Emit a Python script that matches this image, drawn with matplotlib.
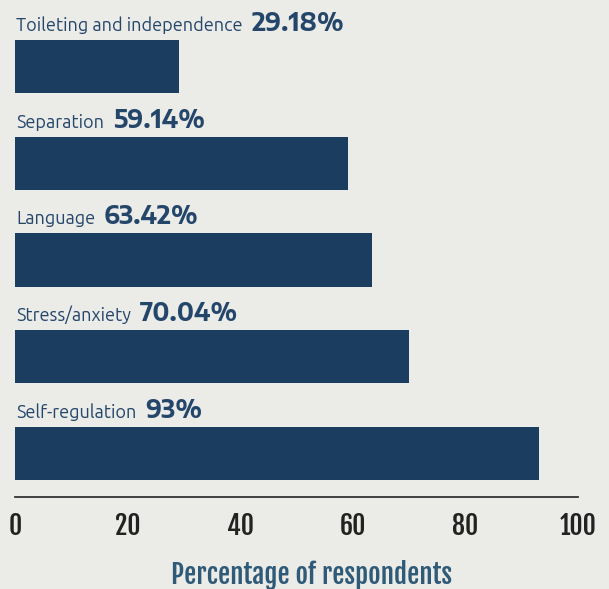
import matplotlib.pyplot as plt
from matplotlib import font_manager

categories = ["Toileting and independence", "Separation", "Language",
              "Stress/anxiety", "Self-regulation"]
values = [29.18, 59.14, 63.42, 70.04, 93]
value_labels = ["29.18%", "59.14%", "63.42%", "70.04%", "93%"]
ticks = [0, 20, 40, 60, 80, 100]

BG = "#ebebe7"
NAVY = "#1b3d5f"
LABEL = "#24466a"

# first candidate family that actually ships a bold face
bold_faces = {f.name for f in font_manager.fontManager.ttflist
              if isinstance(f.weight, int) and f.weight >= 700}
value_font = next((n for n in ["Ubuntu", "Ubuntu Sans", "Encode Sans Semi Expanded",
                               "Hind", "Open Sans"] if n in bold_faces), "DejaVu Sans")

fig = plt.figure(figsize=(6.09, 5.89), dpi=100, facecolor=BG)
ax = fig.add_axes([15 / 609, 92 / 589, 563 / 609, 497 / 589])
ax.set_facecolor(BG)

pos = list(range(len(categories)))
ax.barh(pos, values, height=0.55, color=NAVY)

ax.set_xlim(0, 100)
ax.set_ylim(4.45, -0.686)

# category name, then the bold percentage on the same baseline
for i, (cat, lab) in enumerate(zip(categories, value_labels)):
    top = i - 0.275
    t = ax.annotate(cat, xy=(0, top), xytext=(1, 6.5), textcoords="offset points",
                    fontsize=13, family="Ubuntu", color=LABEL,
                    va="baseline", ha="left", annotation_clip=False)
    ax.annotate(lab, xy=(1, top), xycoords=(t, "data"),
                xytext=(6, 6.5), textcoords="offset points",
                fontsize=17.5, family=value_font, fontweight="bold",
                color=LABEL, va="baseline", ha="left", annotation_clip=False)

for s in ["top", "right", "left"]:
    ax.spines[s].set_visible(False)
ax.spines["bottom"].set_color("#333333")
ax.spines["bottom"].set_linewidth(1.3)
ax.set_yticks([])
ax.set_xticks(ticks)
ax.tick_params(axis="x", length=0, pad=10)
for lbl in ax.get_xticklabels():
    lbl.set_fontfamily("Fjalla One")
    lbl.set_fontsize(18.5)
    lbl.set_color("#222222")

ax.set_xlabel("Percentage of respondents", family="Fjalla One",
              fontsize=19.5, color="#2f5a78", va="center")
ax.xaxis.set_label_coords(0.5275, -0.157)

fig.savefig("out.png", dpi=100, facecolor=BG)
